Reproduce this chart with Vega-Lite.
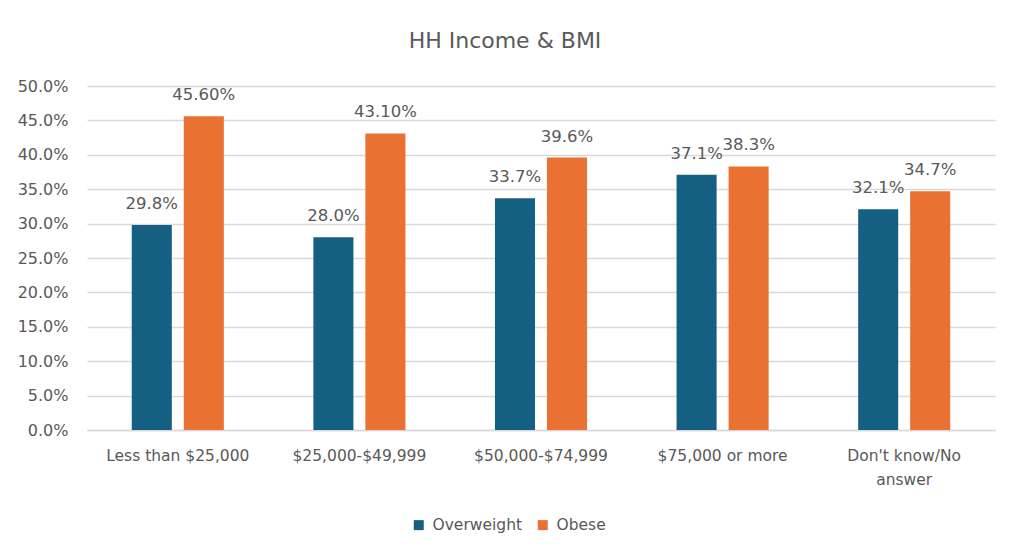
{
  "$schema": "https://vega.github.io/schema/vega-lite/v6.json",
  "autosize": "none",
  "width": 908,
  "height": 344,
  "padding": {"left": 87, "top": 86, "right": 16, "bottom": 127},
  "background": "white",
  "config": {
    "view": {"stroke": null},
    "font": "DejaVu Sans"
  },
  "title": {
    "text": "HH Income & BMI",
    "font": "DejaVu Sans",
    "fontSize": 22,
    "fontWeight": "normal",
    "color": "#595959",
    "anchor": "middle",
    "dx": -36,
    "offset": 25
  },
  "data": {
    "values": [
      {"income": "Less than $25,000", "bmi": "Overweight", "pct": 0.298, "label": "29.8%"},
      {"income": "Less than $25,000", "bmi": "Obese", "pct": 0.456, "label": "45.60%"},
      {"income": "$25,000-$49,999", "bmi": "Overweight", "pct": 0.280, "label": "28.0%"},
      {"income": "$25,000-$49,999", "bmi": "Obese", "pct": 0.431, "label": "43.10%"},
      {"income": "$50,000-$74,999", "bmi": "Overweight", "pct": 0.337, "label": "33.7%"},
      {"income": "$50,000-$74,999", "bmi": "Obese", "pct": 0.396, "label": "39.6%"},
      {"income": "$75,000 or more", "bmi": "Overweight", "pct": 0.371, "label": "37.1%"},
      {"income": "$75,000 or more", "bmi": "Obese", "pct": 0.383, "label": "38.3%"},
      {"income": "Don't know/No answer", "bmi": "Overweight", "pct": 0.321, "label": "32.1%"},
      {"income": "Don't know/No answer", "bmi": "Obese", "pct": 0.347, "label": "34.7%"}
    ]
  },
  "encoding": {
    "x": {
      "field": "income",
      "type": "nominal",
      "sort": null,
      "scale": {"paddingInner": 0.493, "paddingOuter": 0.2465},
      "axis": {
        "title": null,
        "labelAngle": 0,
        "ticks": false,
        "labelPadding": 18,
        "labelFontSize": 15.5,
        "labelColor": "#595959",
        "labelLineHeight": 24,
        "labelExpr": "datum.label == \"Don't know/No answer\" ? [\"Don't know/No\", \"answer\"] : datum.label",
        "domainColor": "#d9d9d9",
        "domainWidth": 1.5,
        "labelBaseline": "top"
      }
    },
    "xOffset": {
      "field": "bmi",
      "type": "nominal",
      "sort": ["Overweight", "Obese"],
      "scale": {"paddingInner": 0.23, "paddingOuter": 0}
    },
    "y": {
      "field": "pct",
      "type": "quantitative",
      "scale": {"domain": [0, 0.5], "nice": false},
      "axis": {
        "title": null,
        "format": ".1%",
        "values": [0, 0.05, 0.1, 0.15, 0.2, 0.25, 0.3, 0.35, 0.4, 0.45, 0.5],
        "labelOverlap": false,
        "ticks": false,
        "domain": false,
        "labelPadding": 19,
        "labelFontSize": 16,
        "labelColor": "#595959",
        "gridColor": "#d9d9d9",
        "gridWidth": 1.5
      }
    },
    "color": {
      "field": "bmi",
      "type": "nominal",
      "sort": ["Overweight", "Obese"],
      "scale": {"domain": ["Overweight", "Obese"], "range": ["#156082", "#E97132"]},
      "legend": {
        "title": null,
        "orient": "none",
        "direction": "horizontal",
        "legendX": 324,
        "legendY": 431,
        "symbolType": "square",
        "symbolSize": 100,
        "symbolStrokeWidth": 0,
        "labelFontSize": 15.5,
        "labelColor": "#595959",
        "labelOffset": 6,
        "columnPadding": 12
      }
    }
  },
  "layer": [
    {"mark": {"type": "bar"}},
    {
      "mark": {"type": "text", "baseline": "middle", "dy": -21, "fontSize": 16.5},
      "encoding": {
        "text": {"field": "label"},
        "color": {"value": "#595959"}
      }
    }
  ]
}
